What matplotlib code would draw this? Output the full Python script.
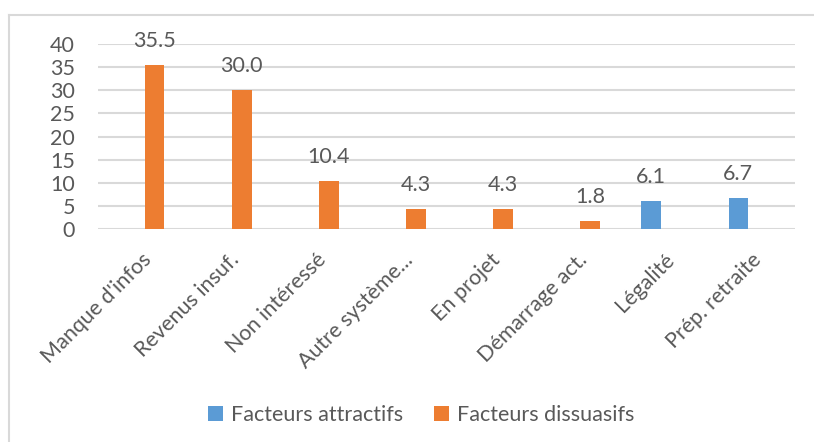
import matplotlib
matplotlib.use("Agg")
import matplotlib.pyplot as plt
from matplotlib.lines import Line2D
import numpy as np

categories = ["Manque d'infos", "Revenus insuf.", "Non intéressé", "Autre système...",
              "En projet", "Démarrage act.", "Légalité", "Prép. retraite"]
attractifs = [0, 0, 0, 0, 0, 0, 6.1, 6.7]
dissuasifs = [35.5, 30.0, 10.4, 4.3, 4.3, 1.8, 0, 0]
series_names = ["Facteurs attractifs", "Facteurs dissuasifs"]
yticks = [0, 5, 10, 15, 20, 25, 30, 35, 40]

BLUE = "#5b9bd5"
ORANGE = "#ed7d31"
TEXT = "#595959"
GRID = "#d9d9d9"
FONT = ["Lato", "DejaVu Sans"]
FS = 15.5

plt.rcParams["font.family"] = FONT

fig = plt.figure(figsize=(8.14, 4.42), dpi=100)
ax = fig.add_axes([98 / 814, 1 - 229 / 442, (795 - 98) / 814, (229 - 44) / 442])

x = np.arange(len(categories))
w = 0.225
off = 0.15
ax.bar(x - off, attractifs, w, color=BLUE, label=series_names[0], zorder=3)
ax.bar(x + off, dissuasifs, w, color=ORANGE, label=series_names[1], zorder=3)

for xs, vals in ((x - off, attractifs), (x + off, dissuasifs)):
    for xi, v in zip(xs, vals):
        if v > 0:
            ax.annotate(f"{v:.1f}", (xi, v), xytext=(0, 13), textcoords="offset points",
                        ha="center", va="baseline", fontsize=FS, color=TEXT,
                        annotation_clip=False)

ax.set_xlim(-0.5, len(categories) - 0.5)
ax.set_ylim(0, 40)
ax.set_yticks(yticks)
ax.yaxis.grid(True, color=GRID, linewidth=1.5, zorder=0)
ax.set_axisbelow(True)
for s in ax.spines.values():
    s.set_visible(False)
ax.tick_params(axis="y", length=0, pad=16.5, labelsize=FS, labelcolor=TEXT)
ax.tick_params(axis="x", length=0, pad=15, labelsize=FS, labelcolor=TEXT)
ax.set_xticks(x)
ax.set_xticklabels(categories, rotation=45, ha="right", rotation_mode="anchor")

ax.legend(loc="center", bbox_to_anchor=(421 / 814, 1 - 415 / 442),
          bbox_transform=fig.transFigure, ncol=2, frameon=False,
          fontsize=FS, labelcolor=TEXT, handlelength=0.7, handleheight=0.7,
          handletextpad=0.35, columnspacing=1.45)

# chart area border (top and left edges)
fig.add_artist(Line2D([9 / 814, 1], [1 - 15 / 442, 1 - 15 / 442],
                      transform=fig.transFigure, color=GRID, linewidth=1.5))
fig.add_artist(Line2D([9 / 814, 9 / 814], [0, 1 - 15 / 442],
                      transform=fig.transFigure, color=GRID, linewidth=1.5))

fig.savefig("out.png", dpi=100, facecolor="white")
